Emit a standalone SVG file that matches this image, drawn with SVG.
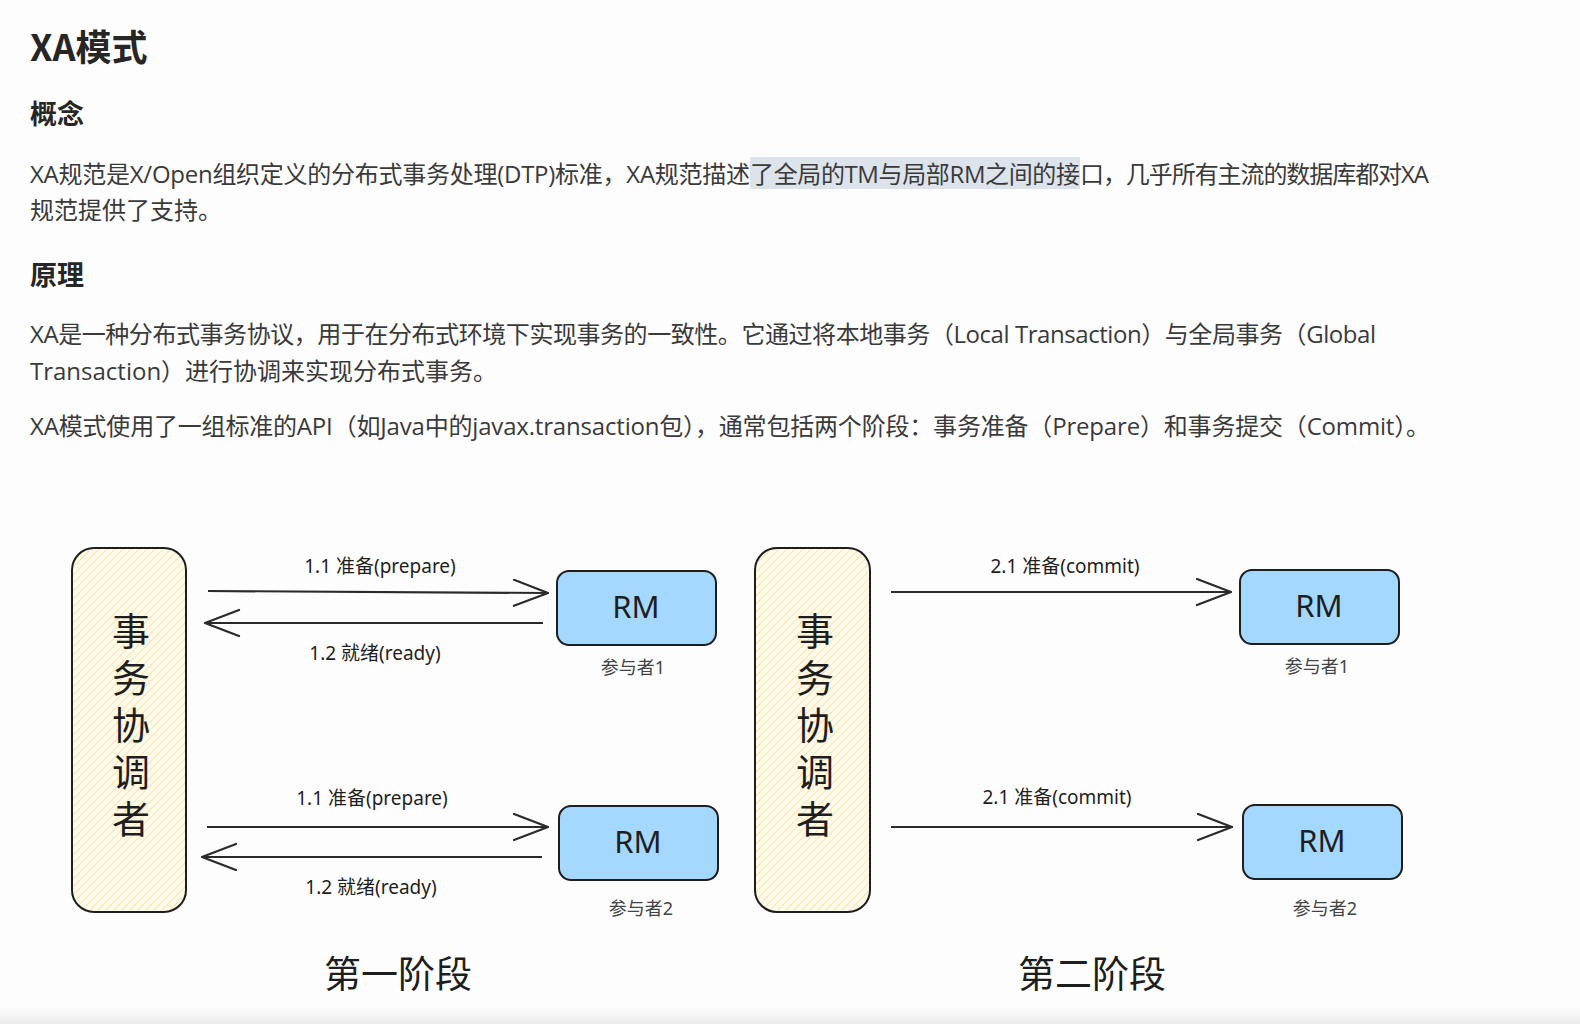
<svg xmlns="http://www.w3.org/2000/svg" width="1580" height="1024" viewBox="0 0 1580 1024">
<style>
.body{font-family:"Open Sans","Noto Sans CJK SC",sans-serif;font-size:24px;fill:#3a3a3a;dominant-baseline:central}
.h1{font-family:"Noto Sans CJK SC",sans-serif;font-size:36px;font-weight:bold;fill:#262626;dominant-baseline:central}
.h2{font-family:"Noto Sans CJK SC",sans-serif;font-size:27px;font-weight:bold;fill:#262626;dominant-baseline:central}
.coord{fill:url(#hatch);stroke:#1e1e1e;stroke-width:2}
.coordtxt{font-family:"Noto Sans CJK SC",sans-serif;font-size:38px;fill:#1e1e1e;text-anchor:middle;writing-mode:vertical-rl;letter-spacing:9px}
.rm{fill:#a5d8ff;stroke:#1e1e1e;stroke-width:2}
.rmtxt{font-family:"Noto Sans","Liberation Sans",sans-serif;font-size:31px;fill:#1e1e1e;text-anchor:middle;dominant-baseline:central}
.sub{font-family:"Noto Sans","Noto Sans CJK SC",sans-serif;font-size:18px;fill:#444;text-anchor:middle;dominant-baseline:central}
.lbl{font-family:"Noto Sans","Noto Sans CJK SC",sans-serif;font-size:19px;fill:#1e1e1e;text-anchor:middle;dominant-baseline:central}
.phase{font-family:"Noto Sans CJK SC",sans-serif;font-size:37px;fill:#1e1e1e;text-anchor:middle;dominant-baseline:central}
.arrow{stroke:#2a2a2a;stroke-width:2.2;fill:none;marker-end:url(#head)}
</style>
<defs>
<pattern id="hatch" patternUnits="userSpaceOnUse" width="8" height="8">
<rect width="8" height="8" fill="#fffaea"/>
<path d="M0,8 L8,0 M-2,2 L2,-2 M6,10 L10,6" stroke="#f6e8b4" stroke-width="1.2"/>
</pattern>
<marker id="head" markerUnits="userSpaceOnUse" markerWidth="40" markerHeight="30" refX="36" refY="14" orient="auto">
<path d="M2,1 L36,14 L2,27" fill="none" stroke="#2a2a2a" stroke-width="2.2" stroke-linecap="round" stroke-linejoin="round"/>
</marker>
<linearGradient id="foot" x1="0" y1="0" x2="0" y2="1">
<stop offset="0" stop-color="#fbfbfb"/>
<stop offset="1" stop-color="#ebebeb"/>
</linearGradient>
</defs>
<rect width="1580" height="1024" fill="#fdfdfd"/>
<rect x="0" y="1008" width="1580" height="16" fill="url(#foot)"/>

<g id="text">
<text class="h1" x="30" y="45">XA模式</text>
<text class="h2" x="30" y="112">概念</text>
<rect x="750" y="157" width="330" height="32" fill="#dde3ea"/>
<text class="body" y="173"><tspan x="30" textLength="720">XA规范是X/Open组织定义的分布式事务处理(DTP)标准，XA规范描述</tspan><tspan x="750" textLength="330">了全局的TM与局部RM之间的接</tspan><tspan x="1080" textLength="349">口，几乎所有主流的数据库都对XA</tspan></text>
<text class="body" x="30" y="209">规范提供了支持。</text>
<text class="h2" x="30" y="273">原理</text>
<text class="body" x="30" y="333" textLength="1346">XA是一种分布式事务协议，用于在分布式环境下实现事务的一致性。它通过将本地事务（Local Transaction）与全局事务（Global</text>
<text class="body" x="30" y="370">Transaction）进行协调来实现分布式事务。</text>
<text class="body" x="30" y="425" textLength="1400">XA模式使用了一组标准的API（如Java中的javax.transaction包），通常包括两个阶段：事务准备（Prepare）和事务提交（Commit）。</text>
</g>

<g id="coordinator1">
<rect class="coord" x="72" y="548" width="114" height="364" rx="22"/>
<text class="coordtxt" x="131" y="729">事务协调者</text>
</g>
<g id="coordinator2">
<rect class="coord" x="755" y="548" width="115" height="364" rx="22"/>
<text class="coordtxt" x="815" y="729">事务协调者</text>
</g>

<g id="rm-p1-1">
<rect class="rm" x="557" y="571" width="159" height="74" rx="12"/>
<text class="rmtxt" x="636" y="606">RM</text>
<text class="sub" x="633" y="667">参与者1</text>
</g>
<g id="rm-p1-2">
<rect class="rm" x="559" y="806" width="159" height="74" rx="12"/>
<text class="rmtxt" x="638" y="841">RM</text>
<text class="sub" x="641" y="908">参与者2</text>
</g>
<g id="rm-p2-1">
<rect class="rm" x="1240" y="570" width="159" height="74" rx="12"/>
<text class="rmtxt" x="1319" y="605">RM</text>
<text class="sub" x="1317" y="666">参与者1</text>
</g>
<g id="rm-p2-2">
<rect class="rm" x="1243" y="805" width="159" height="74" rx="12"/>
<text class="rmtxt" x="1322" y="840">RM</text>
<text class="sub" x="1325" y="908">参与者2</text>
</g>

<g id="connectors">
<path class="arrow" d="M208,591 L548,593"/>
<path class="arrow" d="M543,623 L205,623"/>
<path class="arrow" d="M207,827 L548,827"/>
<path class="arrow" d="M542,857 L202,857"/>
<path class="arrow" d="M891,592 L1231,592"/>
<path class="arrow" d="M891,827 L1232,827"/>
<text class="lbl" x="380" y="566">1.1 准备(prepare)</text>
<text class="lbl" x="375" y="653">1.2 就绪(ready)</text>
<text class="lbl" x="372" y="798">1.1 准备(prepare)</text>
<text class="lbl" x="371" y="887">1.2 就绪(ready)</text>
<text class="lbl" x="1065" y="566">2.1 准备(commit)</text>
<text class="lbl" x="1057" y="797">2.1 准备(commit)</text>
</g>

<g id="phases">
<text class="phase" x="398" y="972">第一阶段</text>
<text class="phase" x="1092" y="972">第二阶段</text>
</g>
</svg>
